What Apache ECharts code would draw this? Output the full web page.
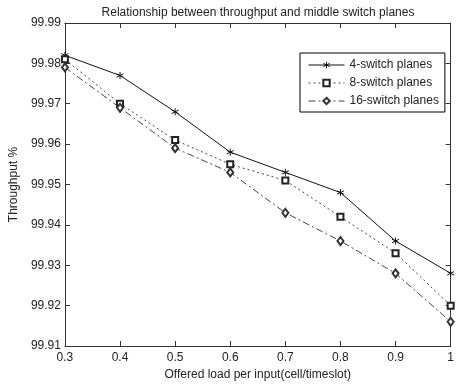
<!DOCTYPE html>
<html><head><meta charset="utf-8">
<script src="https://cdn.jsdelivr.net/npm/echarts@6/dist/echarts.min.js"></script>
<style>html,body{margin:0;padding:0;background:#fff}#c{width:457px;height:386px}</style>
</head><body><div id="c"></div>
<script>
const loads = [0.3, 0.4, 0.5, 0.6, 0.7, 0.8, 0.9, 1.0];
const sw4 = [99.982, 99.977, 99.968, 99.958, 99.953, 99.948, 99.936, 99.928];
const sw8 = [99.981, 99.970, 99.961, 99.955, 99.951, 99.942, 99.933, 99.920];
const sw16 = [99.979, 99.969, 99.959, 99.953, 99.943, 99.936, 99.928, 99.916];
const seriesNames = ['4-switch planes', '8-switch planes', '16-switch planes'];
const titleText = 'Relationship between throughput and middle switch planes';
const xName = 'Offered load per input(cell/timeslot)';
const yName = 'Throughput %';

const pair = arr => loads.map((x, i) => [x, arr[i]]);
const star = 'path://M5,0 L5,10 M0.7,2.5 L9.3,7.5 M9.3,2.5 L0.7,7.5';
const font = 'Liberation Sans, Arial, sans-serif';
const axisCol = '#333';

const chart = echarts.init(document.getElementById('c'));
const baseX = {type:'value', min:0.3, max:1.0, interval:0.1,
  axisLine:{show:true, onZero:false, lineStyle:{color:axisCol, width:1}},
  axisTick:{show:true, inside:true, length:5, lineStyle:{color:axisCol}},
  splitLine:{show:false}};
const baseY = {type:'value', min:99.91, max:99.99, interval:0.01,
  axisLine:{show:true, onZero:false, lineStyle:{color:axisCol, width:1}},
  axisTick:{show:true, inside:true, length:5, lineStyle:{color:axisCol}},
  splitLine:{show:false}};
chart.setOption({
  animation:false,
  backgroundColor:'#fff',
  title:{text:titleText, left:253, textAlign:'center', top:2,
    textStyle:{fontFamily:font, fontSize:12, fontWeight:'normal', color:'#222'}},
  grid:{left:55, right:6, top:23, bottom:39},
  xAxis:[
    Object.assign({}, baseX, {position:'bottom', name:xName, nameLocation:'middle', nameGap:23,
      nameTextStyle:{fontFamily:font, fontSize:12, color:'#222'},
      axisLabel:{show:true, margin:6, fontFamily:font, fontSize:12, color:'#222',
        formatter:v => String(+v.toFixed(1))}}),
    Object.assign({}, baseX, {position:'top', axisLabel:{show:false}})
  ],
  yAxis:[
    Object.assign({}, baseY, {position:'left', name:yName, nameLocation:'middle', nameGap:41,
      nameTextStyle:{fontFamily:font, fontSize:12, color:'#222'},
      axisLabel:{show:true, margin:4, fontFamily:font, fontSize:12, color:'#222',
        formatter:v => v.toFixed(2)}}),
    Object.assign({}, baseY, {position:'right', axisLabel:{show:false}})
  ],
  legend:{orient:'vertical', left:300, top:53, data:seriesNames,
    borderColor:'#000', borderWidth:1, padding:[6,6,5,8], itemGap:6,
    itemWidth:36, itemHeight:8, backgroundColor:'#fff',
    lineStyle:{width:1}, itemStyle:{borderWidth:1},
    textStyle:{fontFamily:font, fontSize:12, color:'#222'}},
  series:[
    {name:seriesNames[0], type:'line', data:pair(sw4), symbol:star, symbolSize:7,
      lineStyle:{color:'#111', width:1, type:'solid'},
      itemStyle:{color:'#111', borderColor:'#111', borderWidth:1}},
    {name:seriesNames[1], type:'line', data:pair(sw8), symbol:'emptyRect', symbolSize:6,
      lineStyle:{color:'#444', width:1, type:[2,3]},
      itemStyle:{color:'#222', borderColor:'#222', borderWidth:1}},
    {name:seriesNames[2], type:'line', data:pair(sw16), symbol:'emptyDiamond', symbolSize:[6,8],
      lineStyle:{color:'#444', width:1, type:[7,3,2,3]},
      itemStyle:{color:'#333', borderColor:'#333', borderWidth:1}}
  ]
});
</script></body></html>
